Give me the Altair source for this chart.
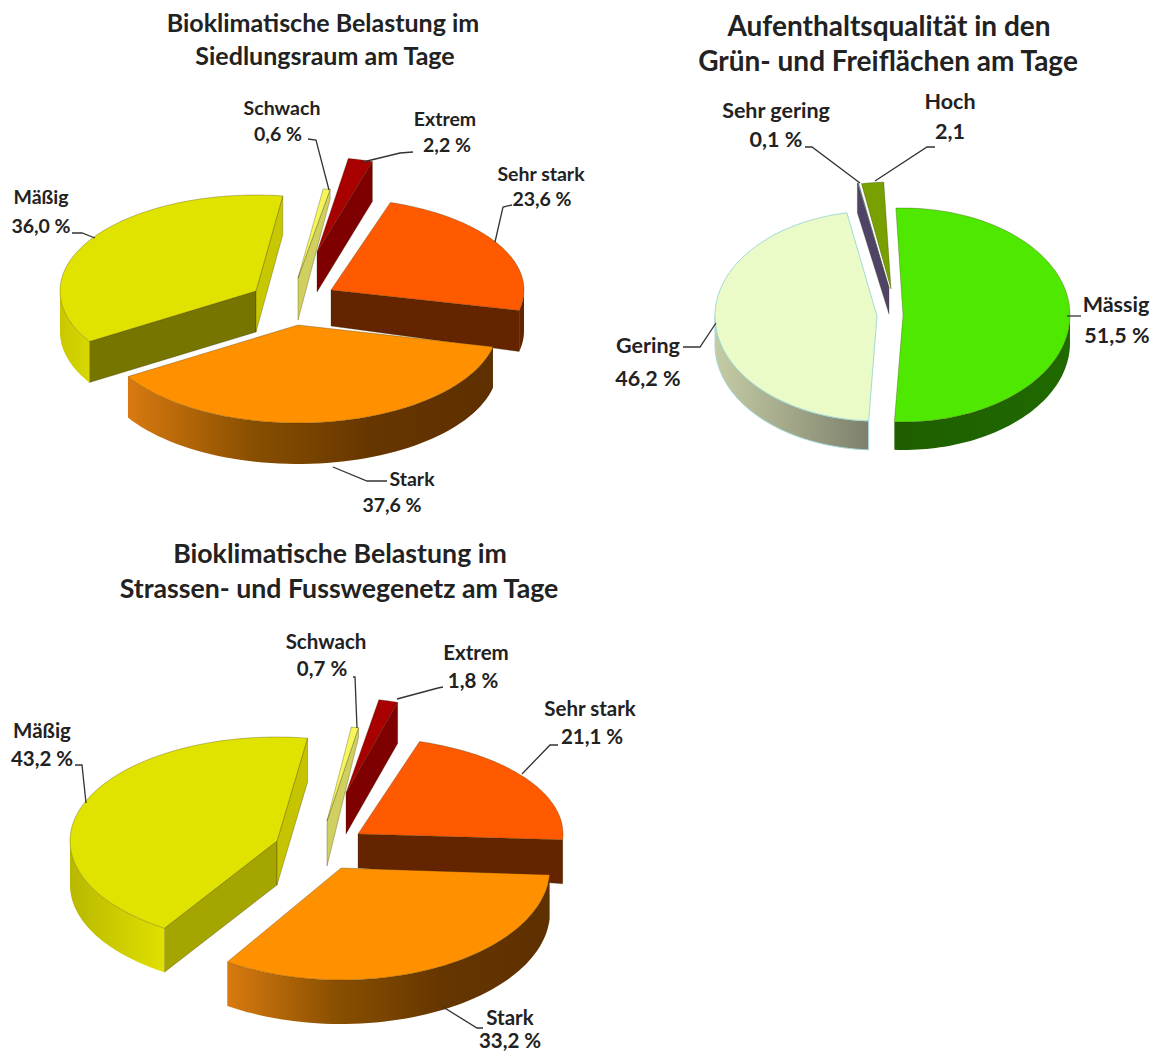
import numpy as np
import pandas as pd
import altair as alt

# ---- values (clockwise from the start angle)
cats_a = ["Extrem", "Sehr stark", "Stark", "Mäßig", "Schwach"]
vals_a = [2.2, 23.6, 37.6, 36.0, 0.6]
cats_b = ["Hoch", "Mässig", "Gering", "Sehr gering"]
vals_b = [2.1, 51.5, 46.2, 0.1]
cats_c = ["Extrem", "Sehr stark", "Stark", "Mäßig", "Schwach"]
vals_c = [1.8, 21.1, 33.2, 43.2, 0.7]

# ---- styling of the 3-D slices
# apex, radii, depth, face, outer wall gradient, [(cut edge, colour, depth at rim)]
ORANGE_WALL = ("#D87A10", "#8A5000", "#663600", "#5E3000")
style_a = {
    "start": 10,
    "Extrem": dict(ax=317, ay=252, rx=180, ry=95, d=40, face="#A80000", wall=("#800000", "#800000"),
                   cuts=[("end", "#7E0000", 40)]),
    "Sehr stark": dict(ax=331, ay=290, rx=193, ry=92, d=36, od=41, face="#FF5A00", wall=("#642400", "#642400"),
                       cuts=[("end", "#642400", 41)]),
    "Stark": dict(ax=298, ay=325, rx=200, ry=98, d=41, face="#FF9000", wall=ORANGE_WALL, cuts=[]),
    "Mäßig": dict(ax=256, ay=291, rx=196, ry=96, d=41, face="#E0E300", wall=("#C8C800", "#D8D800"),
                  cuts=[("start", "#757500", 41), ("end", "#C8C800", 39)]),
    "Schwach": dict(ax=298, ay=278, rx=185, ry=90, d=42, face="#F6F65A", wall=("#D0D060", "#D0D060"),
                    cuts=[("end", "#D0D060", 10)]),
}
style_b = {
    "start": -10,
    "Hoch": dict(ax=891, ay=289, rx=170, ry=107, d=0, face="#77A000", wall=("#77A000", "#77A000"), cuts=[]),
    "Mässig": dict(ax=903, ay=315, rx=167, ry=107, d=28, face="#4FE800", wall=("#1F5E00", "#1F6A00"), cuts=[]),
    "Gering": dict(ax=877, ay=316, rx=162, ry=105, d=29, face="#EBFBC8", wall=("#C4CCA4", "#7E806C"), cuts=[],
                   edge="#A4DAD8"),
    "Sehr gering": dict(ax=889, ay=288, rx=170, ry=107, d=26, face="#5A8AA8", wall=("#4F4468", "#4F4468"),
                        cuts=[("start", "#4F4468", 30)]),
}
style_c = {
    "start": 11,
    "Extrem": dict(ax=346, ay=793, rx=172, ry=95, d=41, face="#A80000", wall=("#800000", "#800000"),
                   cuts=[("end", "#7E0000", 41)]),
    "Sehr stark": dict(ax=358, ay=834, rx=205, ry=97, d=34, od=44, face="#FF5A00", wall=("#642400", "#642400"),
                       cuts=[("end", "#642400", 44)]),
    "Stark": dict(ax=341, ay=868, rx=209, ry=112, d=44, face="#FF9000", wall=ORANGE_WALL, cuts=[]),
    "Mäßig": dict(ax=277, ay=841, rx=207, ry=104, d=44, face="#E0E300", wall=("#B8B800", "#E0E000"),
                  cuts=[("start", "#A5A500", 44), ("end", "#C4C400", 44)]),
    "Schwach": dict(ax=327, ay=821, rx=165, ry=95, d=45, face="#F6F65A", wall=("#D0D060", "#D0D060"),
                    cuts=[("end", "#D0D060", 10)]),
}

# ---- text: (text, x, y, size)
titles = [
    ("Bioklimatische Belastung im", 323, 24, 25),
    ("Siedlungsraum am Tage", 325, 57, 25),
    ("Aufenthaltsqualität in den", 889, 28, 28),
    ("Grün- und Freiflächen am Tage", 888, 63, 28),
    ("Bioklimatische Belastung im", 340, 555, 26.7),
    ("Strassen- und Fusswegenetz am Tage", 339, 590, 26.7),
]
labels = [
    ("Schwach", 282, 109, 19.5), ("0,6 %", 278, 135, 19.5), ("Extrem", 445, 120, 19.5), ("2,2 %", 447, 146, 19.5),
    ("Sehr stark", 541, 175, 19.5), ("23,6 %", 542, 200, 19.5), ("Mäßig", 41, 198, 19.5), ("36,0 %", 41, 227, 19.5),
    ("Stark", 412, 480, 19.5), ("37,6 %", 392, 506, 19.5),
    ("Hoch", 950, 103, 21.5), ("2,1", 950, 133, 21.5), ("Sehr gering", 776, 112, 21.5), ("0,1 %", 776, 141, 21.5),
    ("Mässig", 1116, 306, 21.5), ("51,5 %", 1117, 337, 21.5), ("Gering", 648, 347, 21.5), ("46,2 %", 648, 380, 21.5),
    ("Schwach", 326, 643, 20.5), ("0,7 %", 322, 670, 20.5), ("Extrem", 476, 654, 20.5), ("1,8 %", 473, 682, 20.5),
    ("Sehr stark", 590, 710, 20.5), ("21,1 %", 592, 738, 20.5), ("Mäßig", 42, 732, 20.5), ("43,2 %", 42, 760, 20.5),
    ("Stark", 510, 1019, 20.5), ("33,2 %", 510, 1042, 20.5),
]
leaders = [
    [(308, 139), (316, 140), (329, 190)],
    [(413, 152), (400, 153), (363, 162)],
    [(512, 205), (503, 207), (495, 242)],
    [(72, 233), (82, 233), (95, 238)],
    [(387, 481), (367, 481), (333, 467)],
    [(805, 147), (812, 147), (860, 183)],
    [(935, 147), (927, 147), (875, 181)],
    [(1067, 316), (1081, 316)],
    [(683, 347), (700, 347), (716, 323)],
    [(353, 677), (355, 677), (357, 728)],
    [(443, 687), (438, 688), (397, 699)],
    [(558, 745), (550, 745), (522, 774)],
    [(75, 765), (82, 765), (86, 803)],
    [(483, 1028), (477, 1028), (443, 1007)],
]

X = alt.Scale(domain=[8, 1150], nice=False, zero=False)
Y = alt.Scale(domain=[1051, 8], nice=False, zero=False)


def path_layer(points, fill=None, stroke=None, width=1.0):
    df = pd.DataFrame({"x": [p[0] for p in points], "y": [p[1] for p in points], "i": range(len(points))})
    kw = {"interpolate": "linear", "point": False}
    if fill is not None:
        kw["filled"] = True
        kw["fill"] = fill
    kw["stroke"] = stroke if stroke else "transparent"
    kw["strokeWidth"] = width
    return alt.Chart(df).mark_line(**kw).encode(
        x=alt.X("x:Q", scale=X, axis=None),
        y=alt.Y("y:Q", scale=Y, axis=None),
        order="i:Q",
    )


def grad(cols):
    n = len(cols) - 1
    return alt.Gradient(gradient="linear", x1=0, x2=1, y1=0, y2=0,
                        stops=[alt.GradientStop(color=c, offset=k / n) for k, c in enumerate(cols)])


def pie_layers(cats, vals, st):
    layers = []
    total = 0.0
    spans = {}
    for c, v in zip(cats, vals):
        spans[c] = (st["start"] + total * 3.6, st["start"] + (total + v) * 3.6)
        total += v
    for c in cats:
        s = st[c]
        t0, t1 = spans[c]
        od = s.get("od", s["d"])

        def P(t, dz=0.0):
            a = np.radians(t)
            return (s["ax"] + s["rx"] * np.sin(a), s["ay"] - s["ry"] * np.cos(a) + dz)

        apex = (s["ax"], s["ay"])
        arc = [P(t) for t in np.linspace(t0, t1, 80)]
        edge = s.get("edge", "#3A2E0099")
        # cut faces
        for which, col, rim in s["cuts"]:
            t = t0 if which == "start" else t1
            q = [apex, P(t), P(t, rim), (apex[0], apex[1] + s["d"]), apex]
            layers.append(path_layer(q, fill=col, stroke=edge, width=0.5))
        # outer wall
        lo, hi = max(t0, 90), min(t1, 270)
        if hi > lo and od > 0:
            ts = np.linspace(lo, hi, 60)
            q = [P(t) for t in ts] + [P(t, od) for t in ts[::-1]]
            q.append(q[0])
            layers.append(path_layer(q, fill=grad(s["wall"]), stroke=s.get("edge")))
        # top face
        q = [apex] + arc + [apex]
        layers.append(path_layer(q, fill=s["face"], stroke=edge, width=1 if "edge" in s else 0.5))
    return layers


layers = []
layers += pie_layers(cats_a, vals_a, style_a)
layers += pie_layers(cats_b, vals_b, style_b)
layers += pie_layers(cats_c, vals_c, style_c)
for l in leaders:
    layers.append(path_layer(l, stroke="#333333", width=1.3))

tdf = pd.DataFrame(titles + labels, columns=["t", "x", "y", "s"])

FONT = "Lato"
for size, sub in tdf.groupby("s"):
    layers.append(
        alt.Chart(sub).mark_text(font=FONT, fontWeight="bold", fontSize=float(size), color="#222222",
                                 align="center", baseline="middle").encode(
            x=alt.X("x:Q", scale=X, axis=None), y=alt.Y("y:Q", scale=Y, axis=None), text="t:N")
    )

chart = alt.layer(*layers).properties(
    width=1142, height=1043, padding=0, background="white",
    autosize=alt.AutoSizeParams(type="none"),
).configure_view(stroke=None)

chart.save("out.html", embed_options={"renderer": "svg", "actions": False})
